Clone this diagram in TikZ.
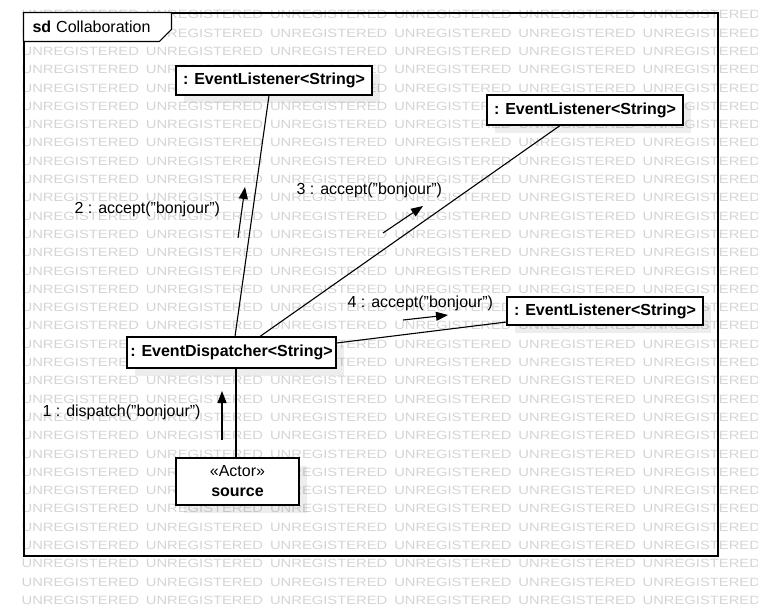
\documentclass[tikz,border=0pt]{standalone}
\usepackage{fontspec}
\setmainfont{Liberation Sans}
\usetikzlibrary{arrows.meta,shadows}
\begin{document}
\begin{tikzpicture}[x=1pt,y=-1pt,
  font=\fontsize{16}{19}\selectfont,
  line width=1.1pt,
  obj/.style={draw, fill=white, inner sep=0pt, font=\fontsize{16}{19}\selectfont\bfseries,
    drop shadow={shadow xshift=8pt, shadow yshift=-8pt, fill=black, opacity=0.07}},
  lbl/.style={inner sep=0pt, anchor=west},
  msg/.style={-{Triangle[length=12pt,width=9pt]}},
  wm/.style={inner sep=0pt, anchor=west, text=black!17, xscale=1.23, font=\fontsize{12}{14}\selectfont}]
\useasboundingbox (0,0) rectangle (758,605);
% watermark
\foreach \r in {-1,...,32} {
  \foreach \c in {0,...,5} {
    \node[wm] (w\r c\c) at ({21+124.2*\c},{14.7+18.3*\r}) {UNREGISTERED};
  }
}
% frame
\node[draw, minimum width=694pt, minimum height=543pt, inner sep=0pt] (frame) at (371,284.5) {};
\draw[fill=white] (frame.north west) -- ++(148,0) -- ++(0,17) -- ++(-12,12) -- ++(-136,0) -- cycle;
\node[lbl] (sdlbl) at (32,27) {\textbf{sd}\hspace{5pt}Collaboration};
% objects
\node[obj, minimum width=196pt, minimum height=29pt] (el1) at (274,80.5) {: EventListener<String>};
\node[obj, minimum width=196pt, minimum height=30pt] (el2) at (585,110) {: EventListener<String>};
\node[obj, minimum width=196pt, minimum height=28pt] (el3) at (605,311) {: EventListener<String>};
\node[obj, minimum width=209pt, minimum height=31pt] (ed) at (231.5,352.5) {: EventDispatcher<String>};
\node[obj, minimum width=123pt, minimum height=47pt, align=center, font=\fontsize{16}{20}\selectfont] (actor) at (237.5,481.5) {«Actor»\\\textbf{source}};
% links
\draw ([xshift=3.5pt]ed.north) -- ([xshift=-5pt]el1.south);
\draw ([xshift=28.5pt]ed.north) -- ([xshift=-25pt]el2.south);
\draw ([yshift=9.5pt]ed.east) -- ([yshift=-11pt]el3.west);
\draw ([xshift=4.5pt]ed.south) -- ([xshift=-1.5pt]actor.north);
% messages
\coordinate (m1s) at (222,440); \coordinate (m1e) at (222,391);
\coordinate (m2s) at (238,238); \coordinate (m2e) at (245,187);
\coordinate (m3s) at (383,233); \coordinate (m3e) at (423,206);
\coordinate (m4s) at (403,320); \coordinate (m4e) at (448,315);
\draw[msg] (m1s) -- (m1e);
\draw[msg] (m2s) -- (m2e);
\draw[msg] (m3s) -- (m3e);
\draw[msg] (m4s) -- (m4e);
\node[lbl] (l1) at (42,412) {1 : dispatch("bonjour")};
\node[lbl] (l2) at (74,209) {2 : accept("bonjour")};
\node[lbl] (l3) at (296,190) {3 : accept("bonjour")};
\node[lbl] (l4) at (347,303) {4 : accept("bonjour")};
\end{tikzpicture}
\end{document}
